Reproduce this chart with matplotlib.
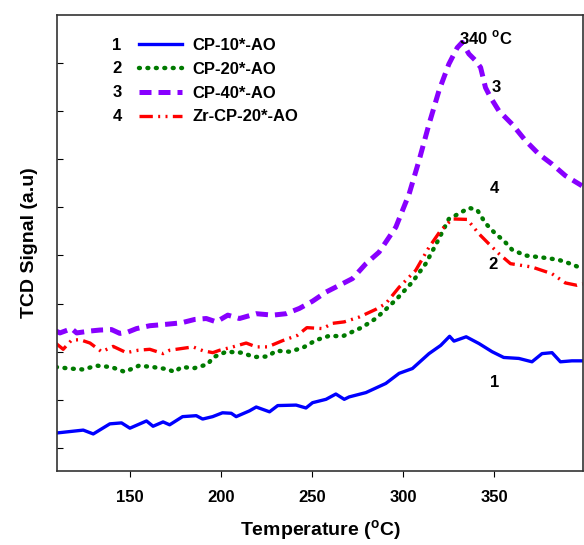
import matplotlib
matplotlib.use("Agg")
import matplotlib.pyplot as plt

# ===== data =====
temp_1 = [109.8, 124.4, 129.9, 139, 145.4, 150, 159.1, 162.7, 168.2, 171.8, 178.9, 186.4,
          189.9, 195.4, 200.8, 205.6, 208.3, 215.6, 219.3, 226.6, 231.1, 241.2, 246.6,
          250.2, 257.6, 263, 267.6, 270.3, 279.5, 290.4, 297.7, 305, 314.1, 320.5, 325.4,
          327.8, 334.5, 341.5, 348.7, 355.1, 363.4, 370.6, 376.1, 381.6, 386.2, 392.5, 398]
sig_1 = [0.31, 0.37, 0.29, 0.50, 0.52, 0.41, 0.56, 0.45, 0.54, 0.48, 0.65, 0.67,
         0.60, 0.65, 0.73, 0.72, 0.65, 0.77, 0.85, 0.75, 0.88, 0.89, 0.83,
         0.94, 1.01, 1.12, 1.01, 1.06, 1.15, 1.34, 1.55, 1.65, 1.96, 2.13, 2.32,
         2.22, 2.31, 2.17, 2.00, 1.88, 1.86, 1.79, 1.96, 1.98, 1.79, 1.81, 1.81]

temp_2 = [109.5, 117.1, 124.4, 131.7, 139.9, 147.2, 155, 162.7, 170, 174.6, 178.2, 185.5,
          192.8, 195.5, 202.9, 211.1, 218.4, 225.6, 230.2, 237.5, 244.8, 252.1, 259.4,
          266.7, 277.6, 284.9, 290.4, 296.5, 305, 312.3, 318.6, 325, 330.5, 336, 340.5,
          345.1, 350.6, 355.1, 359.7, 367, 378, 385.2, 391.6, 398]
sig_2 = [1.68, 1.65, 1.63, 1.71, 1.68, 1.58, 1.71, 1.68, 1.64, 1.58, 1.68, 1.66,
         1.74, 1.88, 2.00, 1.98, 1.89, 1.90, 2.02, 2.00, 2.08, 2.24, 2.33,
         2.32, 2.51, 2.69, 2.88, 3.10, 3.45, 3.83, 4.28, 4.76, 4.87, 4.99, 4.95,
         4.67, 4.45, 4.31, 4.12, 4.00, 3.95, 3.91, 3.83, 3.73]

temp_3 = [109.5, 111.6, 118, 120.8, 128.1, 133.5, 139.9, 144.5, 149, 153.6, 160.9, 170,
          178.2, 185.5, 191.9, 197.4, 203.7, 210.1, 219.3, 228.4, 235.7, 243, 250.2,
          257.6, 264.9, 272.1, 279.5, 286.7, 292.2, 295.9, 303.2, 308.6, 314.1, 319.6,
          325, 329.6, 332.3, 336, 339.7, 342.4, 345.1, 347.8, 352.4, 359.7, 367, 374.3,
          381.6, 388.9, 398]
sig_3 = [2.43, 2.39, 2.48, 2.39, 2.43, 2.45, 2.46, 2.38, 2.41, 2.48, 2.54, 2.57,
         2.60, 2.67, 2.69, 2.62, 2.76, 2.69, 2.79, 2.76, 2.79, 2.90, 3.05,
         3.24, 3.38, 3.52, 3.83, 4.07, 4.38, 4.59, 5.28, 5.97, 6.73, 7.43,
         7.98, 8.32, 8.43, 8.19, 8.05, 7.91, 7.49, 7.29, 7.01, 6.73, 6.39, 6.11,
         5.90, 5.66, 5.45]

temp_4 = [109.5, 113.4, 118, 122.6, 128.1, 134.5, 140.8, 148.1, 154.5, 160.9, 168.2, 171.8,
          179.1, 184.6, 190.1, 195.5, 199.2, 206.5, 213.8, 219.3, 225.6, 233.8, 241.9,
          247.1, 255.7, 261.2, 267.6, 275.8, 284.9, 290.4, 297.7, 306.8, 314.1, 320.5,
          326.9, 335.1, 341.5, 347, 352.4, 358.8, 370.6, 381.6, 388.9, 395.3, 398.4]
sig_4 = [2.17, 2.05, 2.24, 2.25, 2.18, 2.00, 2.11, 1.98, 2.03, 2.05, 1.96, 2.03,
         2.07, 2.10, 2.02, 1.98, 2.03, 2.10, 2.18, 2.10, 2.10, 2.23, 2.34,
         2.50, 2.48, 2.59, 2.62, 2.72, 2.88, 3.00, 3.34, 3.69, 4.17, 4.52,
         4.76, 4.75, 4.45, 4.24, 4.04, 3.83, 3.76, 3.62, 3.43, 3.38, 3.41]

names = ["CP-10*-AO", "CP-20*-AO", "CP-40*-AO", "Zr-CP-20*-AO"]
numbers = ["1", "2", "3", "4"]

# ===== style =====
plt.rcParams["font.family"] = ["Liberation Sans", "DejaVu Sans"]
plt.rcParams["font.weight"] = "bold"
plt.rcParams["mathtext.fontset"] = "custom"
plt.rcParams["mathtext.rm"] = "Liberation Sans:bold"
plt.rcParams["mathtext.bf"] = "Liberation Sans:bold"

fig = plt.figure(figsize=(5.84, 5.45), dpi=100)
ax = fig.add_axes([0.0976, 0.1358, 0.9004, 0.8367])

ax.plot(temp_1, sig_1, color="#0000ff", lw=2.4, ls="-", label=names[0])
ax.plot(temp_2, sig_2, color="#007a00", lw=3.2, ls=(0, (0.2, 1.7)),
        dash_capstyle="round", label=names[1])
ax.plot(temp_3, sig_3, color="#8800ff", lw=3.6, ls=(0, (2.4, 1.4)), label=names[2])
ax.plot(temp_4, sig_4, color="#ff0000", lw=2.4, ls=(0, (4, 1.6, 0.6, 1.6, 0.6, 1.6)),
        label=names[3])

ax.set_xlim(110, 398.5)
ax.set_ylim(-0.48, 9.0)
ax.set_xticks([150, 200, 250, 300, 350])
ax.set_yticks(range(0, 9))
ax.set_yticklabels([])
ax.tick_params(axis="x", direction="out", length=4, labelsize=12, pad=10)
ax.tick_params(axis="y", direction="in", length=4)
for sp in ax.spines.values():
    sp.set_color("#333333")
    sp.set_linewidth(1.2)

ax.set_xlabel(r"Temperature ($^{\mathregular{o}}$C)", fontsize=14, fontweight="bold", labelpad=9)
ax.set_ylabel("TCD Signal (a.u)", fontsize=14, fontweight="bold", labelpad=10)

leg = ax.legend(loc="upper left", bbox_to_anchor=(0.1404, 0.968), frameon=False,
                fontsize=12, handlelength=2.6, handletextpad=0.6, labelspacing=0.53,
                borderpad=0)
for i, num in enumerate(numbers):
    ax.text(0.114, 0.934 - i * 0.052, num, transform=ax.transAxes, fontsize=12,
            fontweight="bold", ha="center", va="center")

ax.text(330.5, 8.52, r"340 $^{\mathregular{o}}$C", fontsize=12, fontweight="bold",
        ha="left", va="center")
ax.text(350.8, 7.49, "3", fontsize=12, fontweight="bold", ha="center", va="center")
ax.text(350.2, 5.39, "4", fontsize=12, fontweight="bold", ha="center", va="center")
ax.text(349.1, 3.81, "2", fontsize=12, fontweight="bold", ha="center", va="center")
ax.text(350.2, 1.35, "1", fontsize=12, fontweight="bold", ha="center", va="center")

fig.savefig("out.png", dpi=100)
